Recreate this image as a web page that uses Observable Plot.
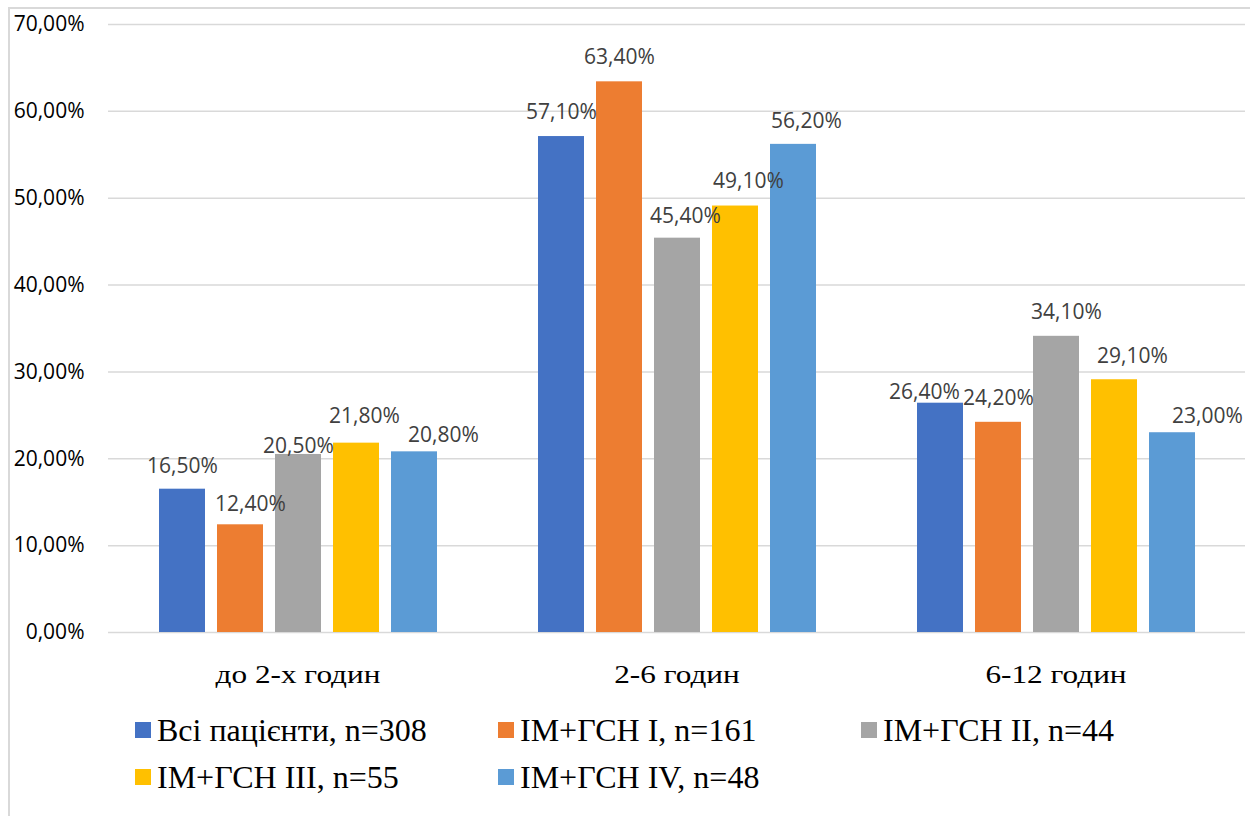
<!DOCTYPE html>
<html>
<head>
<meta charset="utf-8">
<script src="https://cdn.jsdelivr.net/npm/d3@7"></script>
<script src="https://cdn.jsdelivr.net/npm/@observablehq/plot@0.6"></script>
<style>
  html, body { margin: 0; padding: 0; background: #fff; overflow: hidden; }
  body { width: 1250px; height: 816px; position: relative; }
  #frame { position: absolute; left: 8px; top: 7px; width: 1400px; height: 900px;
           border: 2px solid #d9d9d9; box-sizing: border-box; }
  #chart { position: absolute; left: 0; top: 0; }
  #legend { position: absolute; left: 135px; top: 713px;
            display: grid; grid-template-columns: 363px 363px 363px; row-gap: 13px;
            font-family: "Liberation Serif", "Times New Roman", serif; font-size: 32px; color: #000; }
  .item { display: flex; align-items: center; height: 34px; white-space: nowrap; }
  .sw { width: 16px; height: 16px; margin-right: 6px; flex: none; }
</style>
</head>
<body>
<div id="frame"></div>
<div id="chart"></div>
<div id="legend"></div>
<script>
// Time from symptom onset to admission, share of patients per group
const categories = ["до 2-х годин", "2-6 годин", "6-12 годин"];
const series = ["Всі пацієнти, n=308", "IM+ГСН I, n=161", "IM+ГСН II, n=44", "IM+ГСН III, n=55", "IM+ГСН IV, n=48"];
const colors = ["#4472C4", "#ED7D31", "#A5A5A5", "#FFC000", "#5B9BD5"];
const yTicks = [0, 10, 20, 30, 40, 50, 60, 70];

// values in percent, one array per series (order follows categories)
const allPatients = [16.5, 57.1, 26.4];
const group1 = [12.4, 63.4, 24.2];
const group2 = [20.5, 45.4, 34.1];
const group3 = [21.8, 49.1, 29.1];
const group4 = [20.8, 56.2, 23.0];

// hand-placed nudges of the value labels [dx, dy] in px, per category, per series
const labelNudge = [
  [[0, 1], [10, 3], [0, 16], [8, -3], [29, 7]],
  [[0, -1], [0, -1], [8, 2], [13, -1], [13, 1]],
  [[-16, 13], [0, 0], [10, 0], [18, 0], [35, 7]]
];

const seriesValues = [allPatients, group1, group2, group3, group4];
const rows = [];
categories.forEach((cat, ci) => {
  series.forEach((s, si) => rows.push({
    cat, series: s, value: seriesValues[si][ci],
    nx: labelNudge[ci][si][0], ny: labelNudge[ci][si][1]
  }));
});

const pct = v => v.toFixed(2).replace(".", ",") + "%";
const sans = "'Open Sans', 'Liberation Sans', sans-serif";
const serif = "'Liberation Serif', 'Times New Roman', serif";

const chart = Plot.plot({
  width: 1250,
  height: 700,
  marginLeft: 107,
  marginRight: 4,
  marginTop: 24,
  marginBottom: 68,
  fx: {domain: categories, padding: 0, label: null},
  x: {domain: series, paddingInner: 0.21, paddingOuter: 0.865, axis: null},
  y: {domain: [0, 70], label: null},
  color: {domain: series, range: colors},
  marks: [
    Plot.ruleY(yTicks, {stroke: "#d9d9d9", strokeWidth: 1.5}),
    Plot.axisY({ticks: yTicks, tickSize: 0, tickPadding: 24, tickFormat: pct,
                fontSize: 21, fontFamily: sans, fill: "#000", label: null}),
    Plot.axisFx({tickSize: 0, tickPadding: 33, fontSize: 25, anchor: "bottom",
                 fontFamily: serif, fill: "#000", label: null}),
    Plot.barY(rows, {fx: "cat", x: "series", y: "value", fill: "series"}),
    Plot.text(rows, {
      fx: "cat", x: "series", y: "value", text: d => pct(d.value),
      lineAnchor: "bottom", dy: -17, fontSize: 21, fontFamily: sans, fill: "#404040",
      render(index, scales, values, dims, context, next) {
        const g = next(index, scales, values, dims, context);
        const texts = g.querySelectorAll("text");
        index.forEach((i, k) => {
          const t = texts[k];
          if (!t) return;
          const d = rows[i];
          const prev = t.getAttribute("transform") || "";
          t.setAttribute("transform", `${prev} translate(${d.nx},${d.ny})`);
        });
        return g;
      }
    })
  ]
});

// category labels use a wide-set serif: stretch the glyphs horizontally about their anchor
chart.querySelectorAll("text").forEach(t => {
  if (categories.includes(t.textContent)) {
    const x = +(t.getAttribute("x") || 0);
    const prev = t.getAttribute("transform") || "";
    t.setAttribute("transform", `${prev} translate(${x},0) scale(1.25,1) translate(${-x},0)`);
  }
});
document.getElementById("chart").appendChild(chart);

// legend
const legend = document.getElementById("legend");
series.forEach((s, i) => {
  const item = document.createElement("div");
  item.className = "item";
  const sw = document.createElement("span");
  sw.className = "sw";
  sw.style.background = colors[i];
  const label = document.createElement("span");
  label.textContent = s;
  item.append(sw, label);
  legend.appendChild(item);
});
</script>
</body>
</html>
